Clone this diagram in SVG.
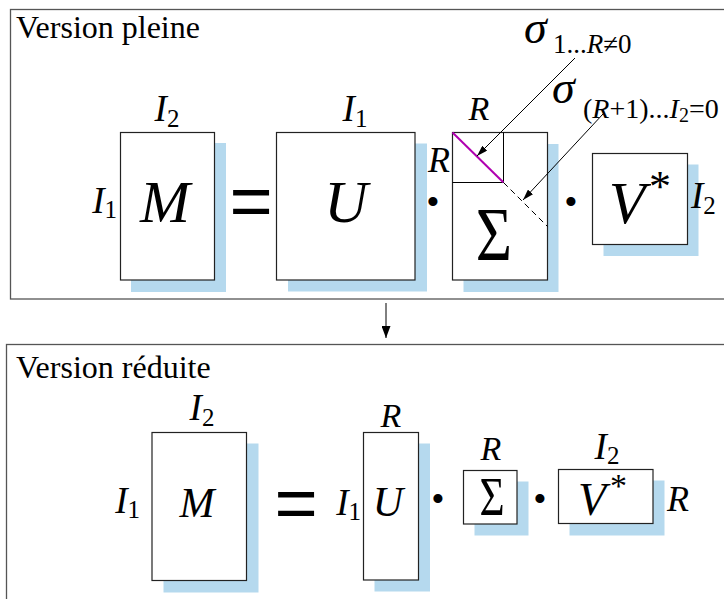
<svg xmlns="http://www.w3.org/2000/svg" width="724" height="599" viewBox="0 0 724 599">
<defs>
<style>
.frame{fill:none;stroke:#555;stroke-width:1.3}
.box{fill:#fff;stroke:#222;stroke-width:1.2}
.sh{fill:#b5d9ee}
.t{font-family:"Liberation Serif","Times New Roman",serif;fill:#000}
.it{font-style:italic}
.lab{font-size:37px}
.sub{font-size:25px}
.big{font-size:60px}
.mid{font-size:42px}
.eq{font-family:"Liberation Sans",Arial,sans-serif;font-size:74px;fill:#000}
.dot{font-family:"Liberation Serif",serif;font-size:38px;fill:#000}
.title{font-family:"Liberation Serif","Times New Roman",serif;font-size:32px;fill:#000}
.ln{stroke:#000;stroke-width:1;fill:none}
</style>
<marker id="ahBig" markerWidth="9" markerHeight="12" refX="4.5" refY="12" orient="0" markerUnits="userSpaceOnUse" viewBox="0 0 9 12">
<path d="M0,0 L9,0 L4.5,12 z" fill="#000"/>
</marker>
<marker id="ah" markerWidth="11" markerHeight="7" refX="11" refY="3.5" orient="auto" markerUnits="userSpaceOnUse" viewBox="0 0 11 7">
<path d="M0,0 L11,3.5 L0,7 z" fill="#000"/>
</marker>
</defs>

<!-- Top frame: Version pleine -->
<g id="frame-pleine">
<rect class="frame" x="10.5" y="9.5" width="730" height="289.5"/>
<text class="title" x="16" y="38">Version pleine</text>
</g>

<g id="full-M">
<rect class="sh" x="131" y="143" width="95" height="149"/>
<rect class="box" x="120.5" y="132.5" width="94" height="147.5"/>
<text class="t it big" x="165" y="222" text-anchor="middle">M</text>
<text class="t lab" x="167" y="121" text-anchor="middle"><tspan class="it">I</tspan><tspan class="sub" dy="6">2</tspan></text>
<text class="t lab" x="117" y="213" text-anchor="end"><tspan class="it">I</tspan><tspan class="sub" dy="5">1</tspan></text>
</g>

<g id="full-eq">
<text class="eq" x="251" y="226" text-anchor="middle">=</text>
</g>

<g id="full-U">
<rect class="sh" x="288" y="143.5" width="139" height="148"/>
<rect class="box" x="276.5" y="132.5" width="138.5" height="147.5"/>
<text class="t it big" x="346" y="222" text-anchor="middle">U</text>
<text class="t lab" x="355" y="121" text-anchor="middle"><tspan class="it">I</tspan><tspan class="sub" dy="6">1</tspan></text>
</g>

<g id="full-dot1"><text class="dot" x="433" y="215" text-anchor="middle">•</text></g>

<g id="full-Sigma">
<rect class="sh" x="463.5" y="144" width="95" height="148"/>
<rect class="box" x="452.5" y="132.5" width="95" height="147.5"/>
<path class="ln" d="M503.5,132.5 V182.5 H452.5" stroke="#222"/>
<line x1="452.5" y1="132.5" x2="503.5" y2="182.5" stroke="#b000b0" stroke-width="2"/>
<line x1="503.5" y1="182.5" x2="547.5" y2="226.5" stroke="#000" stroke-width="1" stroke-dasharray="6,4"/>
<text class="t" x="0" y="0" text-anchor="middle" font-size="76" transform="translate(494,260) scale(0.82,1)">Σ</text>
<text class="t it" x="479" y="120" text-anchor="middle" font-size="34">R</text>
<text class="t it" x="439" y="172" text-anchor="middle" font-size="36">R</text>
</g>

<g id="label-sigma-nonzero">
<text class="t" y="43"><tspan class="it" x="524" font-size="46">σ</tspan><tspan x="553" y="53" font-size="27">1...</tspan><tspan class="it" font-size="27">R</tspan><tspan font-size="27">≠0</tspan></text>
</g>

<g id="label-sigma-zero">
<text class="t" y="103"><tspan class="it" x="552" font-size="46">σ</tspan><tspan x="583" y="118" font-size="28">(</tspan><tspan class="it" font-size="28">R</tspan><tspan font-size="28">+1)...</tspan><tspan class="it" font-size="28">I</tspan><tspan font-size="20" dy="4">2</tspan><tspan font-size="28" dy="-4">=0</tspan></text>
</g>

<g id="full-dot2"><text class="dot" x="571" y="215" text-anchor="middle">•</text></g>

<g id="full-V">
<rect class="sh" x="603.5" y="164.5" width="95" height="91.5"/>
<rect class="box" x="592.5" y="153.5" width="95" height="91"/>
<text class="t it big" x="627" y="223" text-anchor="middle">V</text>
<text class="t" x="649" y="201" font-size="44">*</text>
<text class="t lab" x="691" y="208"><tspan class="it">I</tspan><tspan class="sub" dy="6">2</tspan></text>
</g>

<!-- Bottom frame: Version réduite -->
<g id="frame-reduite">
<rect class="frame" x="6.5" y="344.5" width="730" height="270"/>
<text class="title" x="16" y="378">Version réduite</text>
</g>

<g id="red-M">
<rect class="sh" x="163.5" y="443.5" width="95" height="149"/>
<rect class="box" x="152" y="432.5" width="94.5" height="148"/>
<text class="t it mid" x="197" y="517" text-anchor="middle">M</text>
<text class="t lab" x="202" y="420" text-anchor="middle"><tspan class="it">I</tspan><tspan class="sub" dy="6">2</tspan></text>
<text class="t lab" x="140" y="513" text-anchor="end"><tspan class="it">I</tspan><tspan class="sub" dy="5">1</tspan></text>
</g>

<g id="red-eq">
<text class="eq" x="296" y="528" text-anchor="middle">=</text>
</g>

<g id="red-U">
<rect class="sh" x="374.5" y="443.5" width="55.5" height="148"/>
<rect class="box" x="363.5" y="432.5" width="55" height="147.5"/>
<text class="t it mid" x="388" y="516" text-anchor="middle">U</text>
<text class="t it" x="391" y="427" text-anchor="middle" font-size="34">R</text>
<text class="t lab" x="361" y="515" text-anchor="end"><tspan class="it">I</tspan><tspan class="sub" dy="5">1</tspan></text>
</g>

<g id="red-dot1"><text class="dot" x="438" y="512" text-anchor="middle">•</text></g>

<g id="red-Sigma">
<rect class="sh" x="474.5" y="481.5" width="54" height="54"/>
<rect class="box" x="463.5" y="470.5" width="53.5" height="53.5"/>
<text class="t" x="0" y="0" text-anchor="middle" font-size="54" transform="translate(492,515) scale(0.8,1)">Σ</text>
<text class="t it" x="491" y="460" text-anchor="middle" font-size="34">R</text>
</g>

<g id="red-dot2"><text class="dot" x="540" y="512" text-anchor="middle">•</text></g>

<g id="red-V">
<rect class="sh" x="569.5" y="480.5" width="95" height="55"/>
<rect class="box" x="558.5" y="469.5" width="94.5" height="54"/>
<text class="t it" x="592" y="515" text-anchor="middle" font-size="46">V</text>
<text class="t" x="610" y="497" font-size="34">*</text>
<text class="t lab" x="607" y="459" text-anchor="middle"><tspan class="it">I</tspan><tspan class="sub" dy="5">2</tspan></text>
<text class="t it" x="678" y="511" text-anchor="middle" font-size="36">R</text>
</g>

<g id="connectors">
<line class="ln" x1="386" y1="303" x2="386" y2="338" marker-end="url(#ahBig)"/>
<line class="ln" x1="575" y1="58" x2="477" y2="156" marker-end="url(#ah)"/>
<line class="ln" x1="603" y1="114" x2="523" y2="200" marker-end="url(#ah)"/>
</g>
</svg>
